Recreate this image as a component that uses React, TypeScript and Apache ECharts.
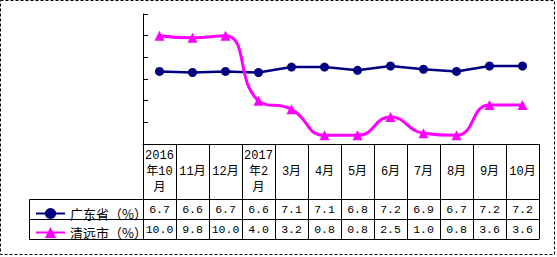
import React, { useEffect, useRef } from "react";
import * as echarts from "echarts";

const categories = [
  "2016\n年10\n月", "11月", "12月", "2017\n年2\n月", "3月", "4月",
  "5月", "6月", "7月", "8月", "9月", "10月",
];
const guangdongName = "广东省（%）";
const qingyuanName = "清远市（%）";
const guangdong = [6.7, 6.6, 6.7, 6.6, 7.1, 7.1, 6.8, 7.2, 6.9, 6.7, 7.2, 7.2];
const qingyuan = [10.0, 9.8, 10.0, 4.0, 3.2, 0.8, 0.8, 2.5, 1.0, 0.8, 3.6, 3.6];

const NUM_FONT = "'Liberation Mono', 'DejaVu Sans Mono', 'Noto Sans CJK SC', monospace";
const CJK_FONT = "'Noto Sans CJK SC', sans-serif";

export default function App() {
  const ref = useRef<HTMLDivElement>(null);
  useEffect(() => {
    document.body.style.margin = "0";
    const chart = echarts.init(ref.current!, undefined, { renderer: "svg" });
    const tableAxis = (offset: number, labels: string[] | null) => ({
      type: "category" as const,
      data: categories.map((c, i) => c + "#" + i),
      position: "bottom" as const,
      offset,
      boundaryGap: true,
      axisLine: { show: true, lineStyle: { color: "#000", width: 1 } },
      axisTick: { show: false },
      axisLabel: labels
        ? {
            show: true,
            interval: 0,
            margin: 10,
            verticalAlign: "middle" as const,
            color: "#000",
            fontSize: 11.5,
            fontFamily: NUM_FONT,
            formatter: (_v: string, idx: number) => labels[idx],
          }
        : { show: false },
      splitLine: { show: false },
    });
    chart.setOption({
      animation: false,
      backgroundColor: "#fff",
      grid: { left: 143, right: 18, top: 14, bottom: 113, containLabel: false },
      legend: {
        orient: "vertical",
        left: 30,
        top: 202,
        itemWidth: 29,
        itemHeight: 14,
        itemGap: 6,
        textStyle: { fontSize: 13, fontFamily: CJK_FONT, color: "#000" },
        data: [guangdongName, qingyuanName],
      },
      xAxis: [
        {
          type: "category",
          data: categories,
          boundaryGap: true,
          axisLine: { show: true, lineStyle: { color: "#000", width: 1 } },
          axisTick: { show: true, length: 95, interval: 0, lineStyle: { color: "#000" } },
          axisLabel: {
            interval: 0,
            margin: 27.5,
            verticalAlign: "middle",
            lineHeight: 16,
            color: "#000",
            fontSize: 12,
            fontFamily: NUM_FONT,
          },
          splitLine: { show: false },
        },
        tableAxis(55, guangdong.map((v) => v.toFixed(1))),
        tableAxis(75, qingyuan.map((v) => v.toFixed(1))),
        tableAxis(95, null),
      ],
      yAxis: {
        type: "value",
        min: 0,
        max: 12,
        interval: 2,
        axisLine: { show: true, lineStyle: { color: "#000", width: 1 } },
        axisTick: { show: true, inside: true, length: 5, lineStyle: { color: "#000" } },
        axisLabel: { show: false },
        splitLine: { show: false },
      },
      graphic: [
        {
          type: "rect",
          shape: { x: 0.5, y: 0.5, width: 554, height: 254 },
          style: { fill: "none", stroke: "#000", lineWidth: 1, lineDash: [3, 2] },
          silent: true,
        },
        {
          type: "polyline",
          shape: { points: [[143, 199.5], [29.5, 199.5], [29.5, 239.5], [143, 239.5]] },
          style: { fill: "none", stroke: "#000", lineWidth: 1 },
          silent: true,
        },
        {
          type: "line",
          shape: { x1: 29.5, y1: 219.5, x2: 143, y2: 219.5 },
          style: { stroke: "#000", lineWidth: 1 },
          silent: true,
        },
      ],
      series: [
        {
          name: guangdongName,
          type: "line",
          data: guangdong,
          xAxisIndex: 0,
          symbol: "circle",
          symbolSize: 9,
          color: "#000080",
          lineStyle: { color: "#000080", width: 2.5 },
          itemStyle: { color: "#000080" },
        },
        {
          name: qingyuanName,
          type: "line",
          data: qingyuan,
          xAxisIndex: 0,
          smooth: 0.5,
          symbol: "triangle",
          symbolSize: 10,
          color: "#FF00FF",
          lineStyle: { color: "#FF00FF", width: 3 },
          itemStyle: { color: "#FF00FF" },
        },
      ],
    });
    return () => chart.dispose();
  }, []);
  return <div ref={ref} style={{ width: 557, height: 257 }} />;
}
